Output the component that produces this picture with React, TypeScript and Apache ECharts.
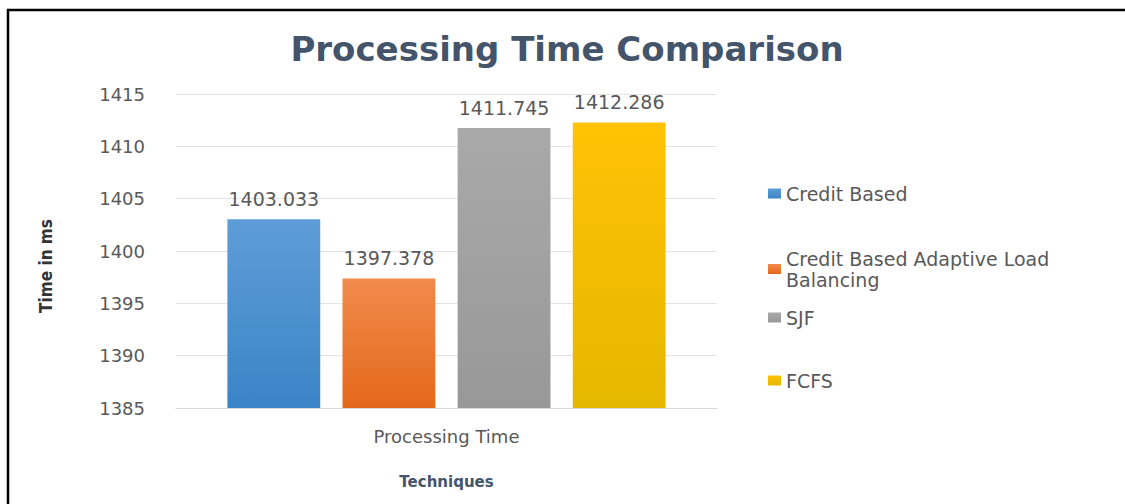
import React, { useEffect, useRef } from "react";
import * as echarts from "echarts";

const categories = ["Processing Time"];
const seriesNames = ["Credit Based", "Credit Based Adaptive Load Balancing", "SJF", "FCFS"];
const creditBased = [1403.033];
const creditBasedAdaptive = [1397.378];
const sjf = [1411.745];
const fcfs = [1412.286];
const seriesValues = [creditBased, creditBasedAdaptive, sjf, fcfs];
const yTicks = { min: 1385, max: 1415, interval: 5 };

const gradients = [
  ["#5e9dd7", "#3b84c7"],
  ["#f18b4d", "#e4681a"],
  ["#a9a9a9", "#989898"],
  ["#ffc205", "#e6b700"],
];
const legendColors = ["#4a90d2", "#ea7026", "#a0a0a0", "#f5bd00"];
const legendTops = [178, 243, 302, 365];

const FONT = "DejaVu Sans";

export default function App() {
  const ref = useRef<HTMLDivElement>(null);
  useEffect(() => {
    if (!ref.current) return;
    const chart = echarts.init(ref.current, undefined, { renderer: "svg" });
    chart.setOption({
      animation: false,
      backgroundColor: "#ffffff",
      textStyle: { fontFamily: FONT },
      title: {
        text: "Processing Time Comparison",
        left: 562,
        textAlign: "center",
        top: 27,
        textStyle: { fontFamily: FONT, fontSize: 34, fontWeight: "bold", color: "#44546a" },
      },
      legend: seriesNames.map((n, i) => ({
        data: [n],
        left: 763,
        top: legendTops[i],
        orient: "vertical",
        icon: "rect",
        itemWidth: 13,
        itemHeight: 10,
        itemGap: 8,
        selectedMode: false,
        formatter: (name: string) =>
          name === "Credit Based Adaptive Load Balancing" ? "Credit Based Adaptive Load\nBalancing" : name,
        textStyle: { fontFamily: FONT, fontSize: 19, color: "#595959", lineHeight: 21 },
      })),
      grid: { left: 176, right: 408, top: 94, bottom: 96 },
      xAxis: {
        type: "category",
        data: categories,
        name: "Techniques",
        nameLocation: "middle",
        nameGap: 66,
        nameTextStyle: { fontFamily: FONT, fontSize: 15, fontWeight: "bold", color: "#44546a" },
        axisLine: { lineStyle: { color: "#d9d9d9", width: 1 } },
        axisTick: { show: false },
        axisLabel: { margin: 19, fontSize: 18, color: "#595959", fontFamily: FONT },
      },
      yAxis: {
        type: "value",
        min: yTicks.min,
        max: yTicks.max,
        interval: yTicks.interval,
        name: "Time in ms",
        nameLocation: "middle",
        nameGap: 122,
        nameTextStyle: {
          fontFamily: "'DejaVu Sans Condensed', 'Liberation Sans', sans-serif",
          fontSize: 17,
          fontWeight: "bold",
          color: "#333333",
          padding: [0, 30, 0, 0],
        },
        axisLine: { show: false },
        axisTick: { show: false },
        axisLabel: {
          margin: 31,
          fontSize: 18,
          color: "#595959",
          fontFamily: FONT,
          formatter: (v: number) => String(v),
        },
        splitLine: { lineStyle: { color: "#e3e3e3", width: 1 } },
      },
      series: seriesNames.map((n, i) => ({
        type: "bar",
        name: n,
        data: seriesValues[i],
        barGap: "24%",
        barCategoryGap: "19%",
        itemStyle: {
          color: new echarts.graphic.LinearGradient(0, 0, 0, 1, [
            { offset: 0, color: gradients[i][0] },
            { offset: 1, color: gradients[i][1] },
          ]),
        },
        label: {
          show: true,
          position: "top",
          distance: 11,
          fontSize: 19,
          color: "#595959",
          fontFamily: FONT,
          formatter: (p: any) => Number(p.value).toFixed(3),
        },
      })),
      color: legendColors,
      graphic: [
        { type: "line", shape: { x1: 7, y1: 10, x2: 1130, y2: 10 }, style: { stroke: "#000", lineWidth: 2.5 } },
        { type: "line", shape: { x1: 8, y1: 9, x2: 8, y2: 510 }, style: { stroke: "#000", lineWidth: 2.5 } },
      ],
    });
    return () => chart.dispose();
  }, []);
  return (
    <div
      ref={ref}
      style={{ position: "absolute", left: 0, top: 0, width: 1125, height: 504, overflow: "hidden" }}
    />
  );
}
